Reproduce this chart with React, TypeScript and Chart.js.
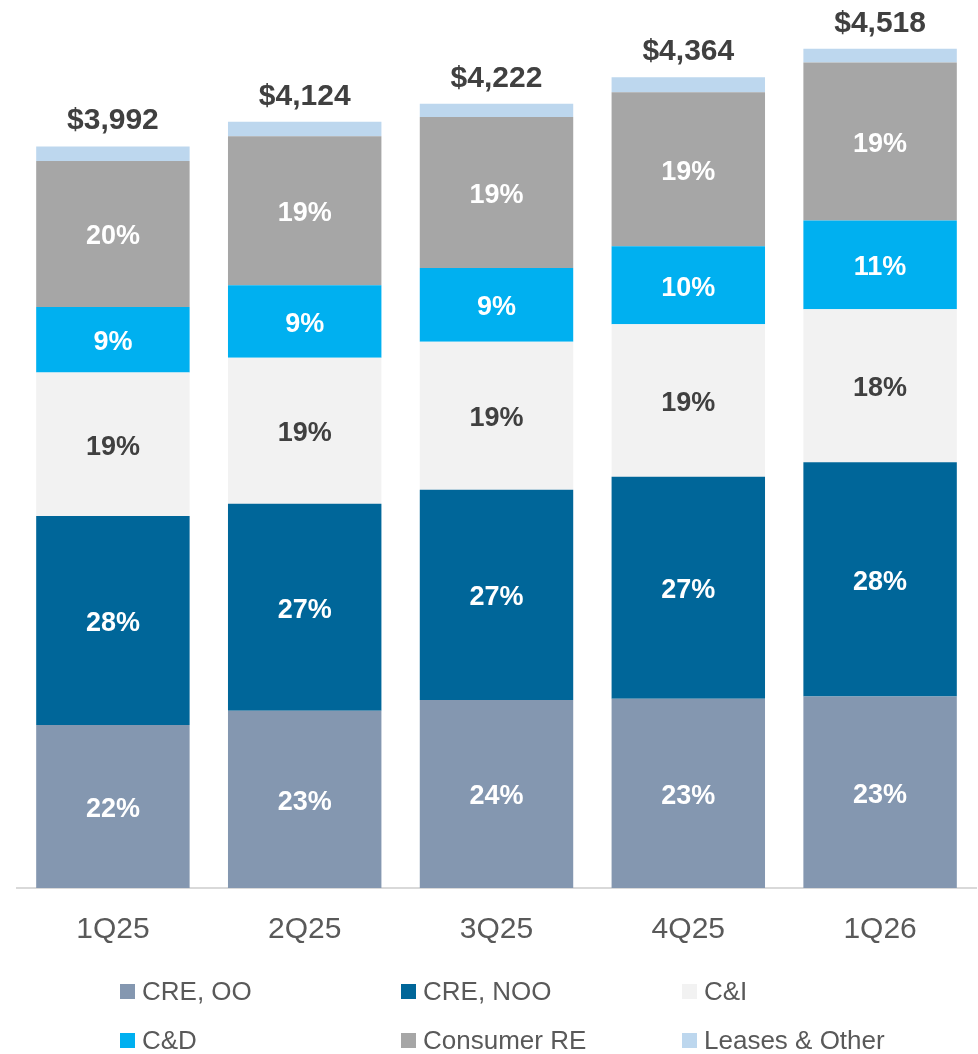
import React, { useEffect, useRef } from "react";
import { Chart, registerables } from "chart.js";

Chart.register(...registerables);

// ---- Data ----
const categories = ["1Q25", "2Q25", "3Q25", "4Q25", "1Q26"];
const seriesNames = ["CRE, OO", "CRE, NOO", "C&I", "C&D", "Consumer RE", "Leases & Other"];
const creOO = [878, 954, 1012, 1019, 1031];
const creNOO = [1125, 1115, 1132, 1195, 1261];
const cAndI = [772, 785, 797, 820, 823];
const cAndD = [352, 390, 396, 420, 478];
const consumerRE = [787, 803, 813, 830, 851];
const leasesOther = [78, 77, 72, 80, 74];

// ---- Styles ----
const seriesColors = ["#8497B0", "#006699", "#F2F2F2", "#00B0F0", "#A6A6A6", "#BDD7EE"];
const pctColors = ["#FFFFFF", "#FFFFFF", "#404040", "#FFFFFF", "#FFFFFF", null];
const FONT = "'Liberation Sans', Arial, Helvetica, sans-serif";

const seriesValues = [creOO, creNOO, cAndI, cAndD, consumerRE, leasesOther];
const totals = categories.map((_, i) => seriesValues.reduce((s, arr) => s + arr[i], 0));

const labelPlugin = {
  id: "segmentLabels",
  afterDatasetsDraw(chart: any) {
    const ctx = chart.ctx as CanvasRenderingContext2D;
    ctx.save();
    ctx.textAlign = "center";
    ctx.textBaseline = "alphabetic";
    chart.data.datasets.forEach((ds: any, di: number) => {
      const color = pctColors[di];
      if (!color) return;
      const meta = chart.getDatasetMeta(di);
      meta.data.forEach((bar: any, i: number) => {
        const v = ds.data[i] as number;
        const pct = Math.round((v / totals[i]) * 100) + "%";
        const cy = (bar.y + bar.base) / 2;
        ctx.font = `bold 27px ${FONT}`;
        ctx.fillStyle = color;
        ctx.fillText(pct, bar.x, cy + 10.5);
      });
    });
    const lastMeta = chart.getDatasetMeta(chart.data.datasets.length - 1);
    lastMeta.data.forEach((bar: any, i: number) => {
      ctx.font = `bold 30px ${FONT}`;
      ctx.fillStyle = "#404040";
      ctx.fillText("$" + totals[i].toLocaleString("en-US"), bar.x, bar.y - 17);
    });
    ctx.restore();
  },
};

export default function App() {
  const canvasRef = useRef<HTMLCanvasElement | null>(null);

  useEffect(() => {
    if (!canvasRef.current) return;
    const chart = new Chart(canvasRef.current, {
      type: "bar",
      data: {
        labels: categories,
        datasets: seriesNames.map((name, i) => ({
          label: name,
          data: seriesValues[i],
          backgroundColor: seriesColors[i],
          borderWidth: 0,
          categoryPercentage: 0.8,
          barPercentage: 1.0,
        })),
      },
      options: {
        responsive: false,
        animation: false,
        layout: { padding: { left: 17, right: 2, top: 0, bottom: 3 } },
        plugins: {
          legend: { display: false },
          tooltip: { enabled: false },
        },
        scales: {
          x: {
            stacked: true,
            grid: { display: false, drawTicks: false },
            border: { display: true, color: "#D9D9D9", width: 2 },
            ticks: {
              color: "#595959",
              padding: 24,
              font: { family: FONT, size: 30 },
            },
          },
          y: {
            stacked: true,
            display: false,
            min: 0,
            max: 4780,
          },
        },
      },
      plugins: [labelPlugin],
    });
    return () => chart.destroy();
  }, []);

  return (
    <div style={{ position: "absolute", left: 0, top: 0, width: 978, height: 1054, background: "#FFFFFF" }}>
      <canvas ref={canvasRef} width={978} height={975} style={{ display: "block", width: 978, height: 975 }} />
      <div
        style={{
          position: "absolute",
          left: 120,
          top: 967,
          display: "grid",
          gridTemplateColumns: "281px 281px 281px",
          gridAutoRows: "49px",
          fontFamily: FONT,
          fontSize: 26,
          color: "#595959",
        }}
      >
        {seriesNames.map((name, i) => (
          <div key={name} style={{ display: "flex", alignItems: "center", height: 49 }}>
            <span
              style={{
                display: "inline-block",
                width: 15,
                height: 15,
                background: seriesColors[i],
                marginRight: 7,
              }}
            />
            <span style={{ whiteSpace: "nowrap" }}>{name}</span>
          </div>
        ))}
      </div>
    </div>
  );
}
